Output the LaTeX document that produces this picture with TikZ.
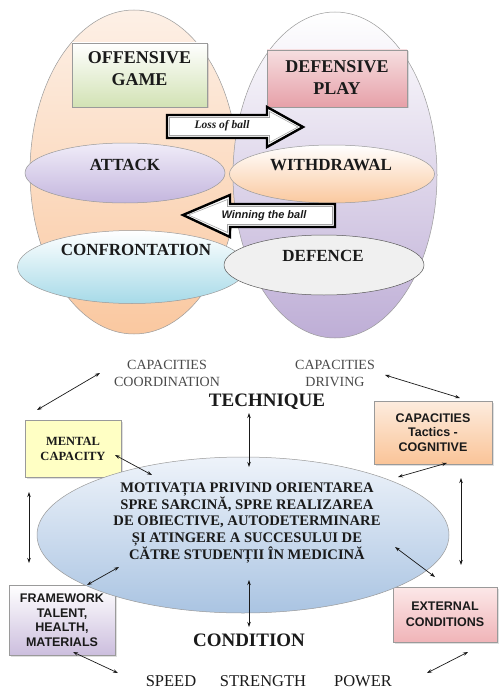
\documentclass[tikz,border=0pt]{standalone}
\usepackage{fontspec}
\setmainfont{Liberation Serif}
\setsansfont{Liberation Sans}
\newfontfamily\serifbold{Liberation Serif Bold}
\usetikzlibrary{shapes.geometric,arrows.meta,shadows}
\definecolor{txt}{HTML}{1A1A1A}
\definecolor{graytxt}{HTML}{4A4A4A}
\definecolor{edge}{HTML}{9A9A9A}
\tikzset{
  bigell/.style={ellipse, draw=edge, line width=0.5pt, inner sep=0pt},
  smallell/.style={ellipse, draw=edge, line width=0.5pt, inner sep=0pt},
  topbox/.style={rectangle, draw=edge, line width=0.5pt, inner sep=0pt,
     drop shadow={opacity=0.25, shadow xshift=1.5pt, shadow yshift=-1.5pt}},
  sidebox/.style={rectangle, draw=edge, line width=0.5pt, inner sep=0pt, align=center,
     drop shadow={opacity=0.25, shadow xshift=1.5pt, shadow yshift=-1.5pt}},
  ellabel/.style={font=\serifbold\fontsize{17}{20}\selectfont, text=txt, inner sep=0pt},
  boxlabel/.style={font=\serifbold\fontsize{18}{22}\selectfont, text=txt, inner sep=0pt, align=center},
  caplabel/.style={font=\fontsize{14}{17}\selectfont, text=graytxt, inner sep=0pt, align=center},
  biglabel/.style={font=\serifbold\fontsize{19}{22}\selectfont, text=txt, inner sep=0pt},
  sansbox/.style={font=\sffamily\bfseries\fontsize{12.5}{14.5}\selectfont, text=txt},
  dar/.style={{Stealth[length=5pt,width=3.5pt]}-{Stealth[length=5pt,width=3.5pt]}, line width=0.7pt, draw=txt},
  fatarrow/.style={draw=black, line width=2.4pt, fill=white, line join=miter},
  fatinner/.style={draw=gray!70, line width=0.6pt, line join=miter}
}
\begin{document}
\begin{tikzpicture}[x=1pt,y=-1pt]
\useasboundingbox (0,0) rectangle (498,690);
\fill[white] (0,0) rectangle (498,690);

% large ellipses
\node[bigell, minimum width=208, minimum height=324, top color={rgb,255:red,253;green,240;blue,230}, bottom color={rgb,255:red,250;green,200;blue,160}] (offell) at (134,172) {};
\node[bigell, minimum width=204, minimum height=326, top color=white, bottom color={rgb,255:red,190;green,174;blue,214}] (defell) at (335,175) {};

% top boxes
\node[topbox, minimum width=135, minimum height=64, top color=white, bottom color={rgb,255:red,210;green,226;blue,180}] (offbox) at (139.5,75) {};
\node[boxlabel] (offtxt) at (139.5,69) {OFFENSIVE\\GAME};
\node[topbox, minimum width=140, minimum height=57, top color={rgb,255:red,246;green,222;blue,224}, bottom color={rgb,255:red,230;green,160;blue,168}] (defbox) at (337,78.5) {};
\node[boxlabel] (deftxt) at (337,77.5) {DEFENSIVE\\PLAY};

% loss of ball arrow
\draw[fatarrow] (167,115) -- (267,115) -- (267,107) -- (303,127) -- (267,147) -- (267,138) -- (167,138) -- cycle;
\draw[fatinner] (169.5,117.5) -- (269.5,117.5) -- (269.5,111.5) -- (298,127) -- (269.5,142.5) -- (269.5,135.5) -- (169.5,135.5) -- cycle;
\node[font=\itshape\bfseries\fontsize{11.5}{13}\selectfont, text=txt, inner sep=0pt] (loss) at (222,126) {Loss of ball};

% attack / withdrawal
\node[smallell, minimum width=200, minimum height=60, top color={rgb,255:red,240;green,236;blue,248}, bottom color={rgb,255:red,196;green,182;blue,222}] (attack) at (125,173) {};
\node[ellabel] (attacktxt) at (125,165) {ATTACK};
\node[smallell, minimum width=205, minimum height=58, top color=white, bottom color={rgb,255:red,250;green,200;blue,158}] (withdraw) at (332,174) {};
\node[ellabel] (withdrawtxt) at (331,165) {WITHDRAWAL};

% winning the ball arrow
\draw[fatarrow] (335,204) -- (230,204) -- (230,195) -- (183,215) -- (230,237) -- (230,227) -- (335,227) -- cycle;
\draw[fatinner] (332.5,206.5) -- (227.5,206.5) -- (227.5,199.5) -- (188.5,215) -- (227.5,232.5) -- (227.5,224.5) -- (332.5,224.5) -- cycle;
\node[font=\sffamily\itshape\bfseries\fontsize{11}{13}\selectfont, text=txt, inner sep=0pt] (win) at (264,215.5) {Winning the ball};

% confrontation / defence
\node[smallell, minimum width=229, minimum height=73, top color=white, bottom color={rgb,255:red,166;green,218;blue,232}] (confr) at (132,267) {};
\node[ellabel] (confrtxt) at (136,250) {CONFRONTATION};
\node[smallell, draw={rgb,255:red,90;green,90;blue,90}, minimum width=200, minimum height=60, fill={rgb,255:red,240;green,240;blue,240}] (defence) at (324,265) {};
\node[ellabel] (defencetxt) at (323,256) {DEFENCE};

% bottom part
\node[caplabel] (capcoord) at (167,373) {CAPACITIES\\COORDINATION};
\node[caplabel] (capdrive) at (335,373) {CAPACITIES\\DRIVING};
\node[biglabel] (technique) at (267,402) {TECHNIQUE};
\node[biglabel] (condition) at (249,640) {CONDITION};

\node[sidebox, minimum width=96, minimum height=57, fill={rgb,255:red,255;green,255;blue,196}, font=\serifbold\fontsize{12.5}{15}\selectfont, text=txt] (mental) at (73,448.5) {\raisebox{6pt}{\parbox{90pt}{\centering MENTAL\\CAPACITY}}};
\node[sidebox, sansbox, minimum width=118, minimum height=63, top color={rgb,255:red,253;green,236;blue,222}, bottom color={rgb,255:red,250;green,196;blue,152}] (cognitive) at (433,432.5) {\raisebox{6pt}{\parbox{110pt}{\centering CAPACITIES\\Tactics -\\COGNITIVE}}};
\node[sidebox, sansbox, minimum width=106, minimum height=70, top color=white, bottom color={rgb,255:red,204;green,190;blue,222}] (framework) at (62,620) {FRAMEWORK\\TALENT,\\HEALTH,\\MATERIALS};
\node[sidebox, sansbox, minimum width=104, minimum height=55, top color={rgb,255:red,252;green,232;blue,232}, bottom color={rgb,255:red,240;green,180;blue,184}, font=\sffamily\bfseries\fontsize{12.5}{16}\selectfont] (external) at (445,614.5) {\raisebox{6pt}{\parbox{100pt}{\centering EXTERNAL\\CONDITIONS}}};

\node[ellipse, draw=edge, line width=0.5pt, inner sep=0pt, minimum width=412, minimum height=156, top color={rgb,255:red,238;green,243;blue,250}, bottom color={rgb,255:red,170;green,196;blue,226}] (central) at (243,535) {};
\node[font=\serifbold\fontsize{14.6}{16.8}\selectfont, text=txt, align=center, inner sep=0pt] (centraltxt) at (247,523) {MOTIVAȚIA PRIVIND ORIENTAREA\\SPRE SARCINĂ, SPRE REALIZAREA\\DE OBIECTIVE, AUTODETERMINARE\\ȘI ATINGERE A SUCCESULUI DE\\CĂTRE STUDENȚII ÎN MEDICINĂ};

\node[font=\fontsize{16.5}{19}\selectfont, text=txt, inner sep=0pt] (speed) at (171,681) {SPEED};
\node[font=\fontsize{16.5}{19}\selectfont, text=txt, inner sep=0pt] (strength) at (263,681) {STRENGTH};
\node[font=\fontsize{16.5}{19}\selectfont, text=txt, inner sep=0pt] (power) at (363,681) {POWER};

% connector end points
\coordinate (a1) at (100,373); \coordinate (a2) at (37,410);
\coordinate (b1) at (385,375); \coordinate (b2) at (460,398);
\coordinate (t1) at (249,413); \coordinate (t2) at (249,467);
\coordinate (c1) at (249,580); \coordinate (c2) at (249,627);
\coordinate (m1) at (115,455); \coordinate (m2) at (152,475);
\coordinate (l1) at (29,492);  \coordinate (l2) at (29,563);
\coordinate (r1) at (461,478); \coordinate (r2) at (461,565);
\coordinate (g1) at (398,477); \coordinate (g2) at (447,463);
\coordinate (f1) at (87,585);  \coordinate (f2) at (119,567);
\coordinate (e1) at (395,547); \coordinate (e2) at (435,577);
\coordinate (s1) at (73,652);  \coordinate (s2) at (118,673);
\coordinate (p1) at (427,673); \coordinate (p2) at (468,652);

\draw[dar] (a1) -- (a2);
\draw[dar] (b1) -- (b2);
\draw[dar] (t1) -- (t2);
\draw[dar] (c1) -- (c2);
\draw[dar] (m1) -- (m2);
\draw[dar] (l1) -- (l2);
\draw[dar] (r1) -- (r2);
\draw[dar] (g1) -- (g2);
\draw[dar] (f1) -- (f2);
\draw[dar] (e1) -- (e2);
\draw[dar] (s1) -- (s2);
\draw[dar] (p1) -- (p2);
\end{tikzpicture}
\end{document}
